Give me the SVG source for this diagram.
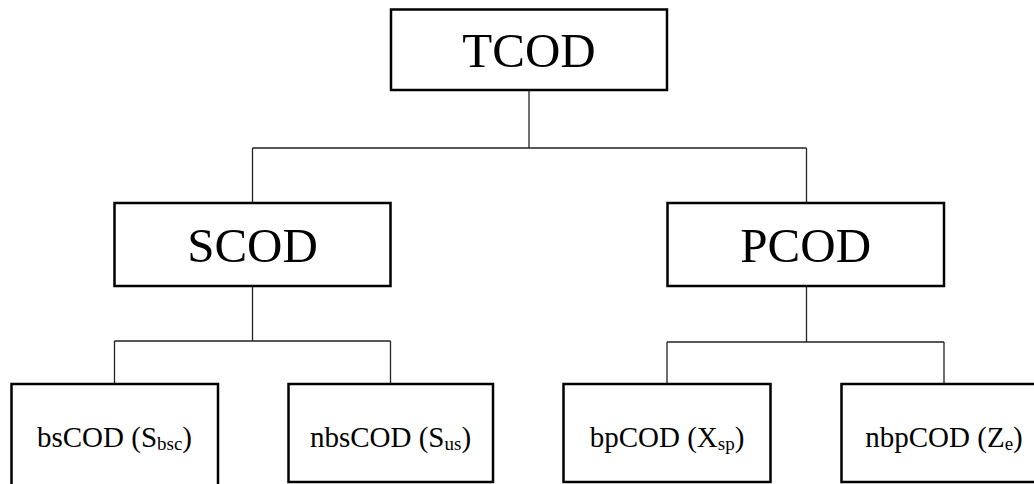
<svg xmlns="http://www.w3.org/2000/svg" width="1034" height="484" viewBox="0 0 1034 484">
<style>
.box{fill:#fff;stroke:#000;stroke-width:2.5}
.big{font-family:"Liberation Serif","Times New Roman",serif;font-size:49px;fill:#000;text-anchor:middle}
.sm{font-family:"Liberation Serif","Times New Roman",serif;font-size:29px;fill:#000;text-anchor:middle}
.sub{font-size:19px}
.conn{fill:none;stroke:#222;stroke-width:1.3}
</style>
<rect width="1034" height="484" fill="#fff"/>
<g id="connectors">
<path class="conn" d="M529,91 V148 M252.5,148 H806.5 M252.5,148 V203 M806.5,148 V203"/>
<path class="conn" d="M252.5,286 V341 M114.5,341 H390.5 M114.5,341 V384 M390.5,341 V384"/>
<path class="conn" d="M806.5,286 V342 M667,342 H944 M667,342 V384 M944,342 V384"/>
</g>
<g id="TCOD"><rect class="box" x="391" y="9.5" width="276" height="80.5"/><text class="big" x="529" y="67">TCOD</text></g>
<g id="SCOD"><rect class="box" x="114.5" y="203" width="276" height="83"/><text class="big" x="252.5" y="262">SCOD</text></g>
<g id="PCOD"><rect class="box" x="667.5" y="203" width="276.5" height="83"/><text class="big" x="805.7" y="262">PCOD</text></g>
<g id="bsCOD"><rect class="box" x="11.5" y="384" width="206.5" height="102"/><text class="sm" x="114.5" y="447">bsCOD (S<tspan class="sub" dy="3">bsc</tspan><tspan dy="-3">)</tspan></text></g>
<g id="nbsCOD"><rect class="box" x="288.5" y="384" width="204.5" height="98"/><text class="sm" x="390.5" y="447">nbsCOD (S<tspan class="sub" dy="3">us</tspan><tspan dy="-3">)</tspan></text></g>
<g id="bpCOD"><rect class="box" x="563.5" y="384" width="207" height="98"/><text class="sm" x="667" y="447">bpCOD (X<tspan class="sub" dy="3">sp</tspan><tspan dy="-3">)</tspan></text></g>
<g id="nbpCOD"><rect class="box" x="841.5" y="384" width="206" height="98"/><text class="sm" x="944" y="447">nbpCOD (Z<tspan class="sub" dy="3">e</tspan><tspan dy="-3">)</tspan></text></g>
</svg>
